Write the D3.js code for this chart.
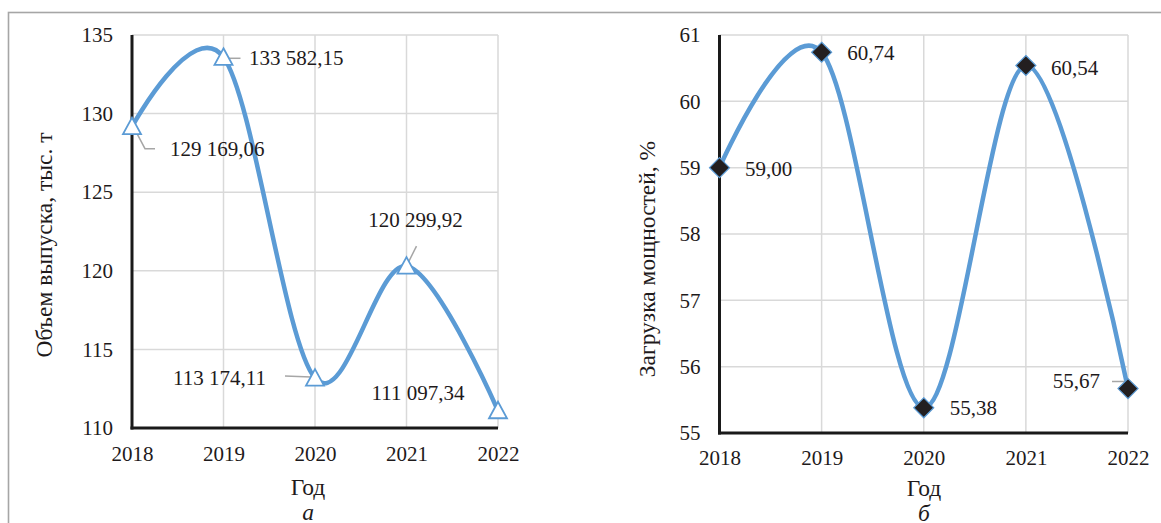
<!DOCTYPE html>
<html>
<head>
<meta charset="utf-8">
<script src="https://cdn.jsdelivr.net/npm/d3@7"></script>
<style>
  html, body { margin: 0; padding: 0; background: #fff; }
  svg { display: block; }
  svg text { font-family: "Liberation Serif", "Tinos", "Times New Roman", Times, serif; }
</style>
</head>
<body>
<svg id="chart" width="1161" height="523"></svg>
<script>
// ---- data ----
const years = [2018, 2019, 2020, 2021, 2022];
const outputTonnes = [129169.06, 133582.15, 113174.11, 120299.92, 111097.34];
const capacityLoad = [59.00, 60.74, 55.38, 60.54, 55.67];
const outputTicks = [110, 115, 120, 125, 130, 135];
const loadTicks = [55, 56, 57, 58, 59, 60, 61];
const outputTitle = "Объем выпуска, тыс. т";
const loadTitle = "Загрузка мощностей, %";
const xTitle = "Год";
const panelLetters = ["а", "б"];

// ---- label placement (relative to each marker) ----
const outputLabelPlacement = [
  { anchor: "start",  dx: 38,  dy: 22,  leader: [[5, 7], [13, 22], [23, 22]] },
  { anchor: "start",  dx: 25.5, dy: 1,  leader: [[5, 1], [17, 1]] },
  { anchor: "end",    dx: -49, dy: 0,   leader: [[-30, -2], [-4, -1]] },
  { anchor: "middle", dx: 9,   dy: -46, leader: [[2, -4], [10, -20]] },
  { anchor: "middle", dx: -80, dy: -18, leader: null }
];
const loadLabelPlacement = [
  { anchor: "start", dx: 25.5, dy: 1,   leader: null },
  { anchor: "start", dx: 25.5, dy: 1,   leader: null },
  { anchor: "start", dx: 26,   dy: 0,   leader: null },
  { anchor: "start", dx: 25,   dy: 2.6, leader: null },
  { anchor: "end",   dx: -28,  dy: -8,  leader: [[-16, -7], [-3, -7], [-1, -1]] }
];

const ruLocale = d3.formatLocale({ decimal: ",", thousands: "\u00a0", grouping: [3], currency: ["", ""] });
const fmtOutput = ruLocale.format(",.2f");
const fmtLoad = ruLocale.format(".2f");

const LINE = "#5b9bd5";
const GRID = "#d9d9d9";
const TEXT = "#1e1a1b";
const LEADER = "#a6a6a6";
const FS = 21;      // tick and data labels
const FS_T = 23.5;  // axis titles

const svg = d3.select("#chart");

// outer frame
svg.append("rect")
  .attr("x", 8.5).attr("y", 12.5)
  .attr("width", 1200).attr("height", 600)
  .attr("fill", "none").attr("stroke", "#a6a6a6").attr("stroke-width", 1.6);

function drawPanel(cfg) {
  const x = d3.scalePoint().domain(years).range([cfg.left, cfg.right]);
  const y = d3.scaleLinear().domain(d3.extent(cfg.ticks)).range([cfg.bottom, cfg.top]);
  const g = svg.append("g");

  // gridlines
  g.append("g").selectAll("line.h").data(cfg.ticks).join("line")
    .attr("x1", cfg.left).attr("x2", cfg.right)
    .attr("y1", d => y(d)).attr("y2", d => y(d))
    .attr("stroke", GRID).attr("stroke-width", 1.5);
  g.append("g").selectAll("line.v").data(years).join("line")
    .attr("x1", d => x(d)).attr("x2", d => x(d))
    .attr("y1", cfg.top).attr("y2", cfg.bottom)
    .attr("stroke", GRID).attr("stroke-width", 1.5);

  // axes labels
  const ya = g.append("g").attr("transform", `translate(${cfg.left},0)`)
    .call(d3.axisLeft(y).tickValues(cfg.ticks).tickSize(0).tickPadding(19).tickFormat(d3.format("d")));
  ya.select(".domain").remove();
  ya.attr("font-family", null).attr("font-size", null);
  ya.selectAll("text").attr("font-size", FS).attr("fill", TEXT);

  const xa = g.append("g").attr("transform", `translate(0,${cfg.bottom})`)
    .call(d3.axisBottom(x).tickSize(0).tickPadding(cfg.xPad).tickFormat(d3.format("d")));
  xa.select(".domain").remove();
  xa.attr("font-family", null).attr("font-size", null);
  xa.selectAll("text").attr("font-size", FS).attr("fill", TEXT);

  // axis lines
  g.append("line").attr("x1", cfg.left).attr("x2", cfg.left).attr("y1", cfg.top).attr("y2", cfg.bottom + 1.5)
    .attr("stroke", "#1a1a1a").attr("stroke-width", 3);
  g.append("line").attr("x1", cfg.left - 1.5).attr("x2", cfg.right).attr("y1", cfg.bottom).attr("y2", cfg.bottom)
    .attr("stroke", "#1a1a1a").attr("stroke-width", 3);

  // titles
  g.append("text")
    .attr("transform", `translate(${cfg.yTitleX},${cfg.yTitleY}) rotate(-90)`)
    .attr("text-anchor", "middle").attr("dominant-baseline", "central")
    .attr("font-size", FS_T).attr("fill", TEXT).text(cfg.yTitle);
  g.append("text").attr("x", cfg.xTitleX).attr("y", cfg.xTitleY)
    .attr("text-anchor", "middle").attr("dominant-baseline", "central")
    .attr("font-size", FS_T).attr("fill", TEXT).text(xTitle);
  g.append("text").attr("x", cfg.xTitleX).attr("y", cfg.letterY)
    .attr("text-anchor", "middle").attr("dominant-baseline", "central")
    .attr("font-size", FS_T).attr("font-style", "italic").attr("fill", TEXT).text(cfg.letter);

  const pts = years.map((yr, i) => ({ yr, v: cfg.values[i], raw: cfg.raw[i], p: cfg.place[i] }));

  // smoothed series line
  const line = d3.line().x(d => x(d.yr)).y(d => y(d.v)).curve(d3.curveCardinal.tension(0));
  g.append("path").datum(pts).attr("d", line)
    .attr("fill", "none").attr("stroke", LINE).attr("stroke-width", 4.5)
    .attr("stroke-linecap", "round").attr("stroke-linejoin", "round");

  // leader lines
  g.append("g").selectAll("polyline").data(pts.filter(d => d.p.leader)).join("polyline")
    .attr("points", d => d.p.leader.map(q => [x(d.yr) + q[0], y(d.v) + q[1]].join(",")).join(" "))
    .attr("fill", "none").attr("stroke", LEADER).attr("stroke-width", 1.5);

  // markers
  g.append("g").selectAll("path").data(pts).join("path")
    .attr("transform", d => `translate(${x(d.yr)},${y(d.v)})`)
    .attr("d", cfg.markerPath)
    .attr("fill", cfg.markerFill).attr("stroke", LINE).attr("stroke-width", cfg.markerStroke)
    .attr("stroke-linejoin", "miter");

  // data labels
  g.append("g").selectAll("text").data(pts).join("text")
    .attr("x", d => x(d.yr) + d.p.dx).attr("y", d => y(d.v) + d.p.dy)
    .attr("text-anchor", d => d.p.anchor).attr("dominant-baseline", "central")
    .attr("font-size", FS).attr("fill", TEXT)
    .text(d => cfg.fmt(d.raw));
}

drawPanel({
  left: 132, right: 498, top: 35, bottom: 428,
  ticks: outputTicks,
  values: outputTonnes.map(v => v / 1000),
  raw: outputTonnes,
  fmt: fmtOutput,
  place: outputLabelPlacement,
  yTitle: outputTitle, yTitleX: 44, yTitleY: 245,
  xPad: 18.5, xTitleX: 308, xTitleY: 487, letterY: 512, letter: panelLetters[0],
  markerPath: "M0,-9 L9,7.5 L-9,7.5 Z", markerFill: "#fff", markerStroke: 1.8
});

drawPanel({
  left: 719.5, right: 1128, top: 35, bottom: 433,
  ticks: loadTicks,
  values: capacityLoad,
  raw: capacityLoad,
  fmt: fmtLoad,
  place: loadLabelPlacement,
  yTitle: loadTitle, yTitleX: 647, yTitleY: 259,
  xPad: 17.5, xTitleX: 924, xTitleY: 488, letterY: 513, letter: panelLetters[1],
  markerPath: "M0,-10 L10,0 L0,10 L-10,0 Z", markerFill: "#231f20", markerStroke: 1.2
});
</script>
</body>
</html>
